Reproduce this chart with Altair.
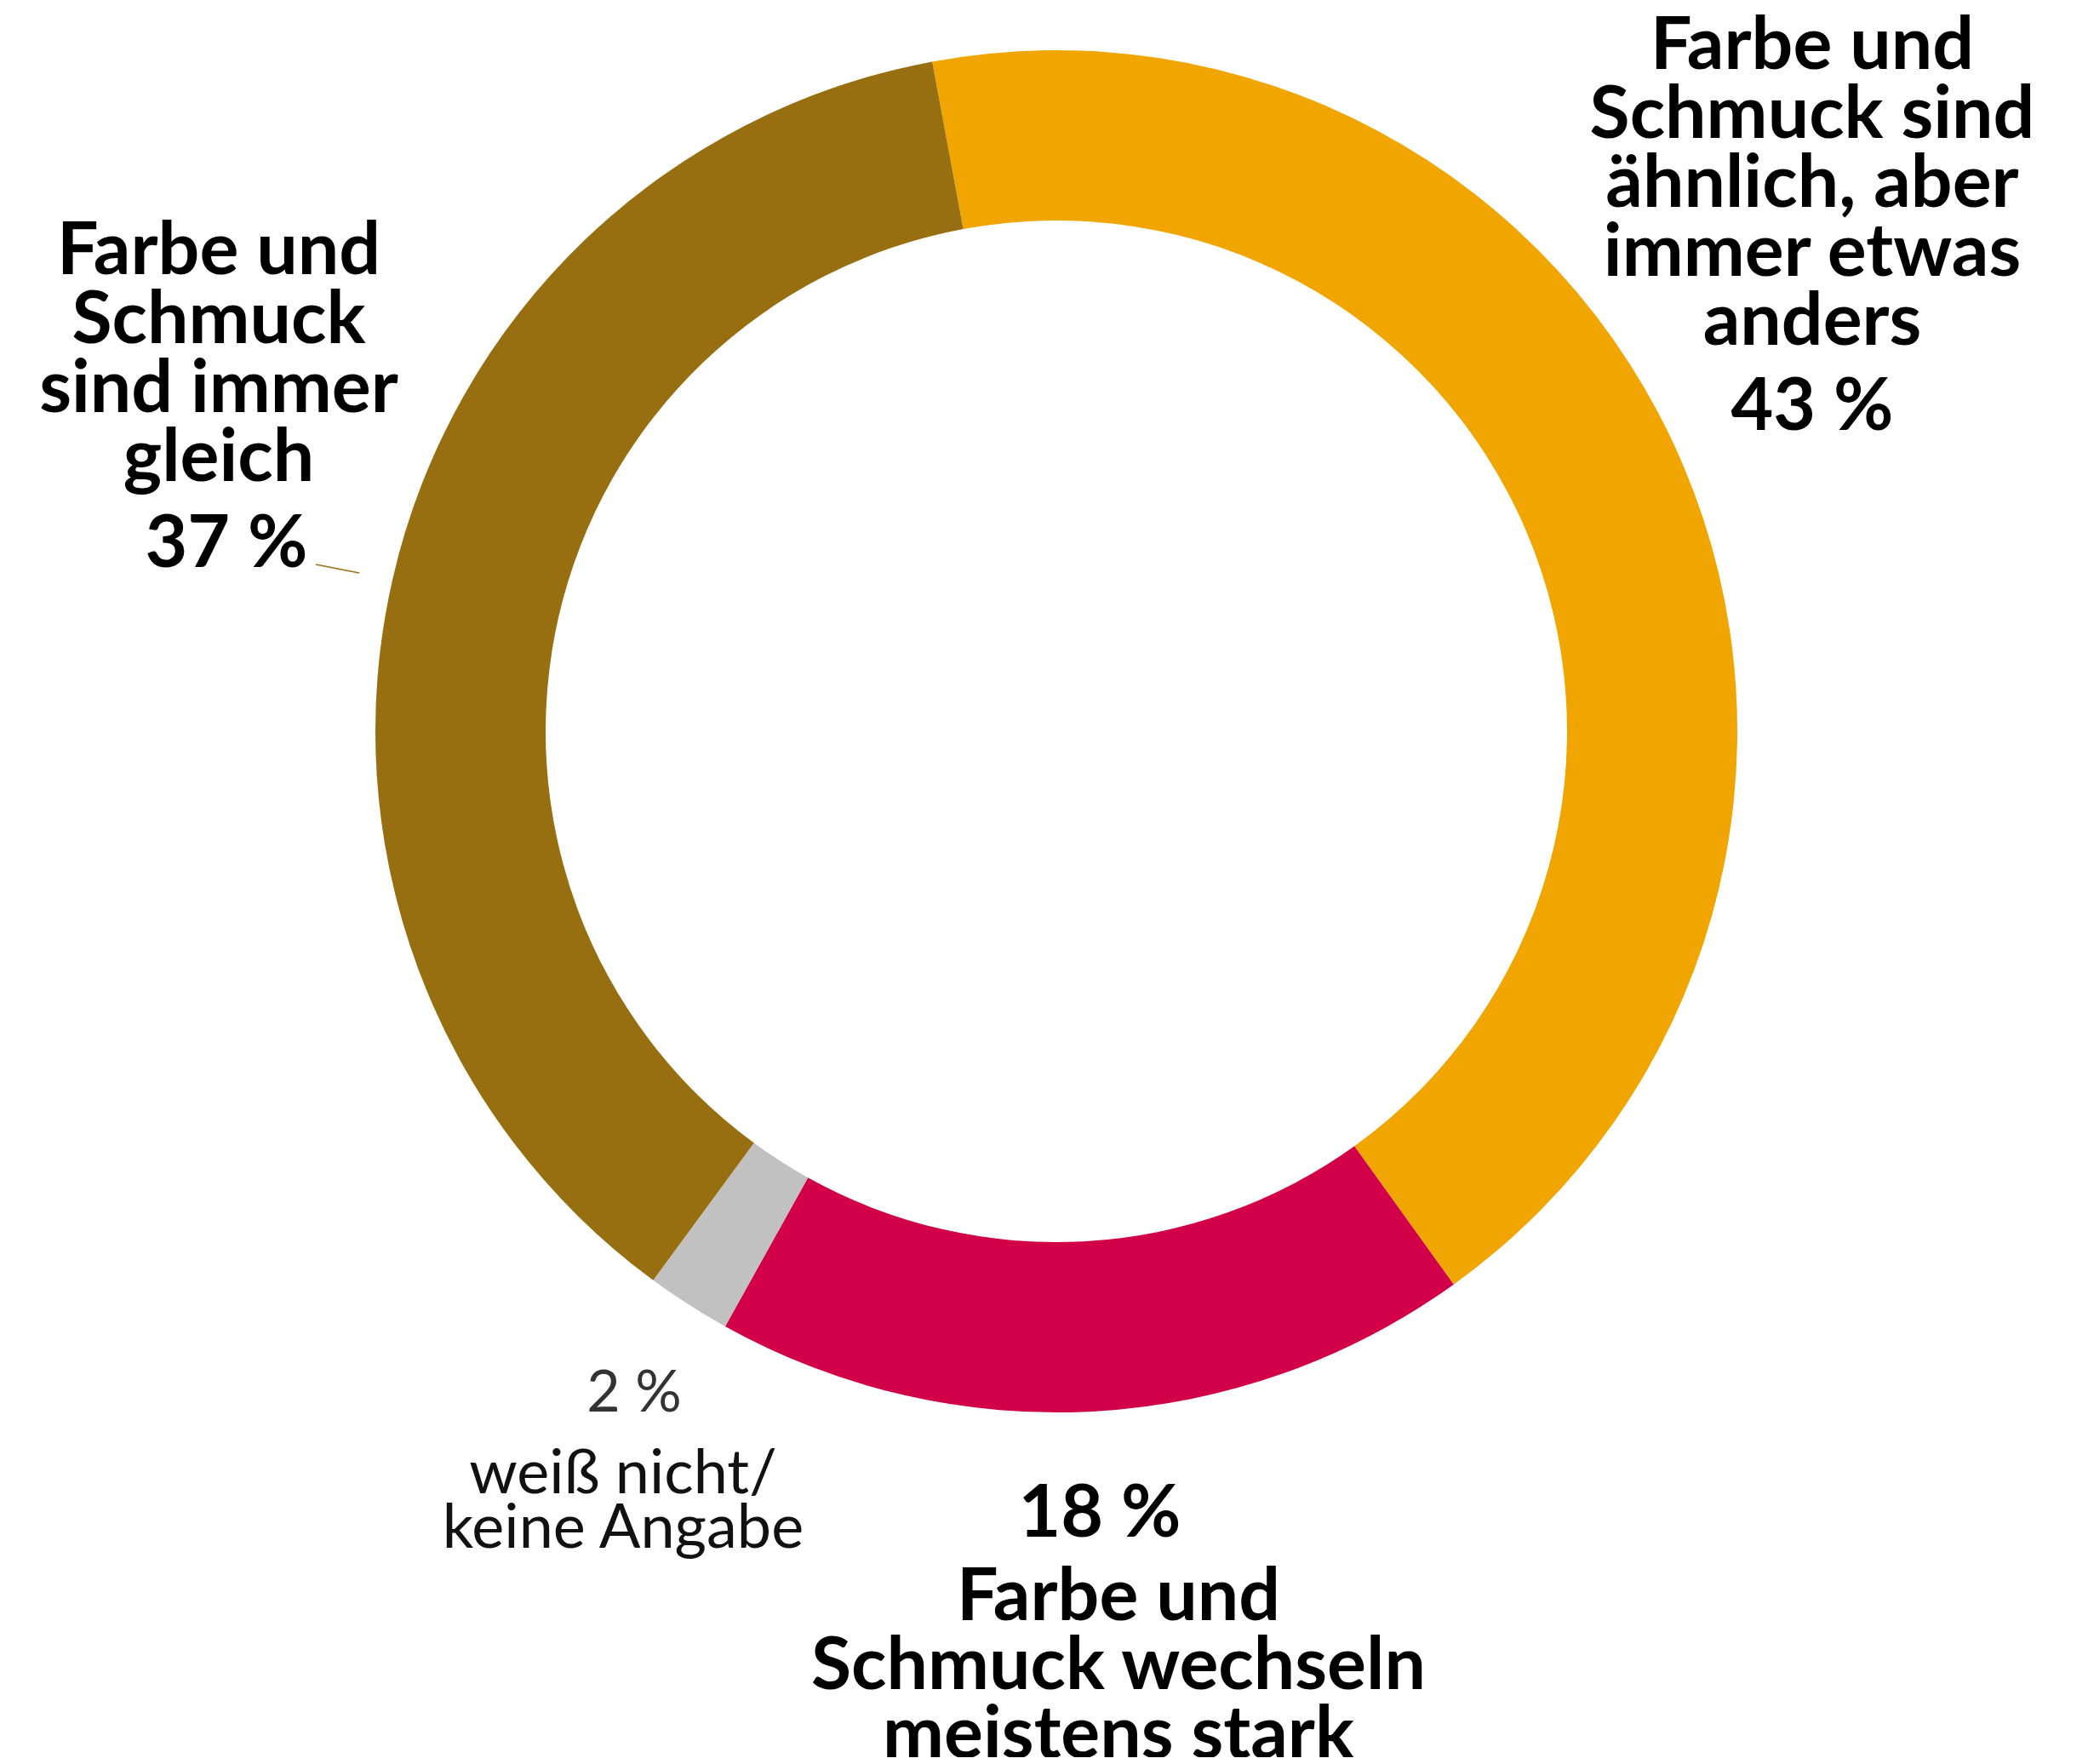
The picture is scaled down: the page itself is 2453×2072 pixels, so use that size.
import math
import altair as alt
import pandas as pd

# ---- data ----
categories = [
    "Farbe und Schmuck sind ähnlich, aber immer etwas anders",
    "Farbe und Schmuck wechseln meistens stark",
    "weiß nicht/keine Angabe",
    "Farbe und Schmuck sind immer gleich",
]
shares = [43, 18, 2, 37]
order_idx = [0, 1, 2, 3]
colors = ["#F0A500", "#D10048", "#C1C1C1", "#976F11"]

label_right = ["Farbe und", "Schmuck sind", "ähnlich, aber", "immer etwas", "anders"]
pct_right = "43 %"
label_left = ["Farbe und", "Schmuck", "sind immer", "gleich"]
pct_left = "37 %"
label_bottom = ["Farbe und", "Schmuck wechseln", "meistens stark"]
pct_bottom = "18 %"
label_gray = ["weiß nicht/", "keine Angabe"]
pct_gray = "2 %"

df = pd.DataFrame({"cat": categories, "value": shares, "ord": order_idx})

W, H = 2437, 2056
CX, CY = 1233, 851
start = -math.radians(10.5)

arcs = alt.Chart(df).mark_arc(outerRadius=800, innerRadius=600, stroke=None).encode(
    theta=alt.Theta("value:Q", stack=True,
                    scale=alt.Scale(range=[start, start + 2 * math.pi])),
    order=alt.Order("ord:Q"),
    color=alt.Color("cat:N", scale=alt.Scale(domain=categories, range=colors), legend=None),
    x=alt.value(CX),
    y=alt.value(CY),
)

one = pd.DataFrame({"k": [0]})
FONT = "Lato"

def txt(lines, x, y, size, weight="bold", color="#000000", lh=81):
    return alt.Chart(one).mark_text(
        text=lines, font=FONT, fontSize=size, fontWeight=weight, color=color,
        align="center", baseline="middle", lineHeight=lh,
    ).encode(x=alt.value(x), y=alt.value(y))

BIG = 86
layers = [
    arcs,
    txt(label_right, 2121, 47, BIG),
    txt(pct_right, 2121, 471, BIG),
    txt(label_left, 249, 288, BIG),
    txt(pct_left, 258, 632, BIG),
    txt(pct_bottom, 1284, 1771, BIG),
    txt(label_bottom, 1306, 1869, BIG),
    txt(pct_gray, 737, 1630, 68, weight="normal", color="#333333"),
    txt(label_gray, 724, 1724, 72, weight="normal", color="#111111", lh=64),
    alt.Chart(one).mark_rule(color="#976F11", strokeWidth=1.5).encode(
        x=alt.value(363), y=alt.value(655), x2=alt.value(414), y2=alt.value(665)
    ),
]

chart = alt.layer(*layers).properties(
    width=W, height=H, padding=0, autosize=alt.AutoSizeParams(type="none")
).configure_view(stroke=None)

chart.save("out.html", embed_options={"renderer": "svg", "actions": False})
